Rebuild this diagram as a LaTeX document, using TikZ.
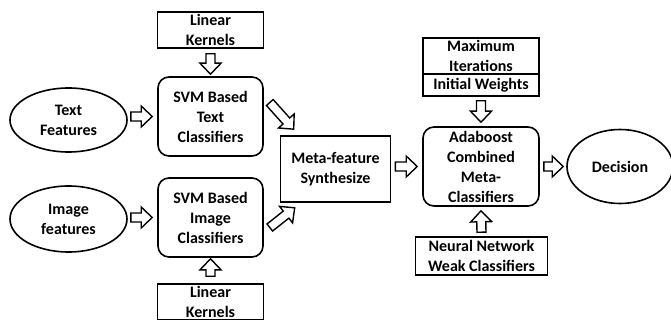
\documentclass[tikz,border=0pt]{standalone}
\usepackage{fontspec}
\setmainfont{Carlito}
\usetikzlibrary{calc,shapes.geometric}

\tikzset{
  base/.style={draw, line width=1.6pt, align=center, inner sep=0pt,
    font=\fontsize{16}{20}\selectfont\bfseries},
  box/.style={base, rectangle},
  rbox/.style={base, rectangle, rounded corners=11pt},
  oval/.style={base, ellipse},
  hollowarrow/.style={draw, line width=1.4pt, fill=white, line join=miter},
}

% Hollow block arrow from #1 to #2 (shaft 9pt, head 21pt wide, 11pt long)
\newcommand{\blockarrow}[2]{%
  \path let \p1=(#1), \p2=(#2) in
    \pgfextra{%
      \pgfmathsetmacro{\baAng}{atan2(\y2-\y1,\x2-\x1)}%
      \pgfmathsetmacro{\baLen}{veclen(\x2-\x1,\y2-\y1)}%
      \xdef\baAngG{\baAng}\xdef\baLenG{\baLen}%
    };
  \draw[hollowarrow, shift={(#1)}, rotate=\baAngG]
    (0pt,-4.5pt) -- ({\baLenG pt-11pt},-4.5pt) -- ({\baLenG pt-11pt},-10.5pt)
    -- ({\baLenG pt},0pt) -- ({\baLenG pt-11pt},10.5pt) -- ({\baLenG pt-11pt},4.5pt)
    -- (0pt,4.5pt) -- cycle;
}

\begin{document}
\begin{tikzpicture}[x=1pt,y=-1pt]
  \useasboundingbox (0,0) rectangle (671,320);

  % feature inputs and SVM stage
  \node[box, minimum width=106pt, minimum height=36pt] (lk1) at (210.5,30) {Linear\\Kernels};
  \node[rbox, minimum width=105pt, minimum height=79pt] (svmt) at (210.5,116.5) {SVM Based\\Text\\Classifiers};
  \node[oval, minimum width=117pt, minimum height=64pt] (tf) at (68.5,120) {Text\\Features};
  \node[rbox, minimum width=105pt, minimum height=79pt] (svmi) at (210.5,217.5) {SVM Based\\Image\\Classifiers};
  \node[oval, minimum width=117pt, minimum height=66pt] (imf) at (68.5,219) {Image\\features};
  \node[box, minimum width=106pt, minimum height=36pt] (lk2) at (210.5,302) {Linear\\Kernels};

  % meta stage
  \node[box, minimum width=110pt, minimum height=66pt] (meta) at (335.5,169) {Meta-feature\\Synthesize};
  \node[box, minimum width=116pt, minimum height=36pt] (maxit) at (481,56) {Maximum\\Iterations};
  \node[box, minimum width=116pt, minimum height=22pt] (initw) at (481,85) {Initial Weights};
  \node[rbox, minimum width=116pt, minimum height=79pt] (ada) at (481,166.5) {Adaboost\\Combined\\Meta-\\Classifiers};
  \node[box, minimum width=132pt, minimum height=38pt] (nn) at (481.5,256) {Neural Network\\Weak Classifiers};
  \node[oval, minimum width=106pt, minimum height=74pt] (dec) at (620,166.5) {Decision};

  % block arrows
  \blockarrow{$(lk1.south)+(0,5)$}{$(svmt.north)+(0,-2)$}
  \blockarrow{$(svmt.west -| tf.east)+(3,0)$}{$(svmt.west)+(-5,0)$}
  \blockarrow{$(svmi.west -| imf.east)+(3,0)$}{$(svmi.west)+(-5,0)$}
  \blockarrow{$(lk2.north)+(0,-7)$}{$(svmi.south)+(0,1)$}
  \blockarrow{$(svmt.east)+(6,-14)$}{$(meta.north west)+(14,-6)$}
  \blockarrow{$(svmi.east)+(6,10)$}{$(meta.south west)+(15,5)$}
  \blockarrow{$(ada.west -| meta.east)+(4,0)$}{$(ada.west)+(-5,0)$}
  \blockarrow{$(initw.south)+(0,4)$}{$(ada.north)+(0,-4)$}
  \blockarrow{$(nn.north)+(0,-4)$}{$(ada.south)+(0,4)$}
  \blockarrow{$(ada.east)+(4,0)$}{$(ada.east -| dec.west)+(-3,0)$}
\end{tikzpicture}
\end{document}
